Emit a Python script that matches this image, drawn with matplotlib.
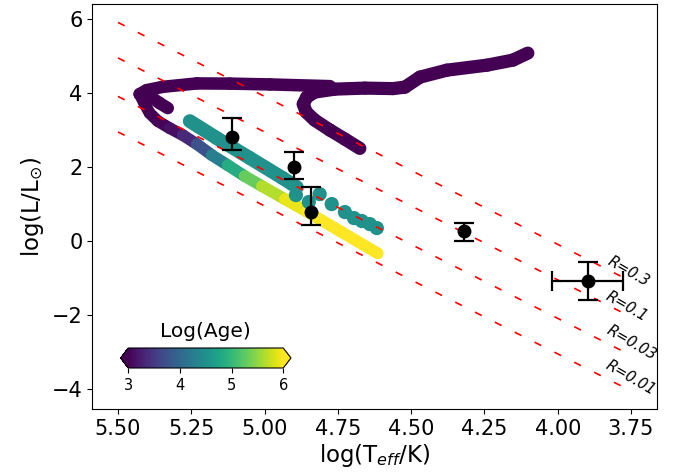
import numpy as np
import matplotlib
matplotlib.use('Agg')
import matplotlib.pyplot as plt
from matplotlib.collections import LineCollection
from matplotlib.colors import Normalize
from matplotlib.cm import ScalarMappable

plt.rcParams['lines.scale_dashes'] = False

# ---- constant-radius lines (log L at hot and cool ends) ----
R_values = [0.3, 0.1, 0.03, 0.01]
R_logT = [5.5, 3.75]
R_logL_hot = [5.91, 4.95, 3.91, 2.95]
R_logL_cool = [-1.09, -2.05, -3.09, -4.05]
R_label_logT = [3.760, 3.764, 3.747, 3.750]
R_label_logL = [-0.81, -1.78, -2.74, -3.70]

# ---- observed stars ----
obs_logT = [5.111, 4.899, 4.840, 4.319, 3.898]
obs_logL = [2.82, 2.01, 0.79, 0.27, -1.08]
obs_logL_lo = [0.36, 0.33, 0.36, 0.26, 0.50]
obs_logL_hi = [0.50, 0.40, 0.66, 0.23, 0.52]
obs_logT_err = [0.0, 0.0, 0.0, 0.0, 0.12]

# ---- evolutionary tracks (logT, logL, logAge) ----
trackA_logT = [4.675, 4.726, 4.777, 4.829, 4.858, 4.868, 4.856, 4.829, 4.760,
               4.658, 4.562, 4.521, 4.470, 4.378, 4.241, 4.153, 4.102]
trackA_logL = [2.505, 2.756, 2.999, 3.269, 3.486, 3.702, 3.891, 4.026, 4.107,
               4.134, 4.121, 4.161, 4.431, 4.620, 4.755, 4.891, 5.080]
trackA_age = [3.0] * len(trackA_logT)

trackB_logT = [4.777, 4.982, 5.119, 5.231, 5.347, 5.402, 5.426, 5.392, 5.358, 5.330]
trackB_logL = [4.188, 4.234, 4.256, 4.261, 4.169, 4.080, 3.972, 3.918, 3.729, 3.594]
trackB_age = [3.0] * len(trackB_logT)

trackC_logT = [5.426, 5.409, 5.392, 5.364, 5.324, 5.279, 5.231, 5.180, 5.126,
               5.068, 5.009, 4.931, 4.856, 4.743, 4.614]
trackC_logL = [3.972, 3.702, 3.459, 3.242, 3.053, 2.864, 2.621, 2.324, 2.053,
               1.756, 1.486, 1.135, 0.797, 0.270, -0.332]
trackC_age = [3.0, 3.0, 3.0, 3.0, 3.05, 3.2, 3.5, 4.0, 4.6,
              5.1, 5.5, 5.8, 6.0, 6.0, 6.0]

trackD_logT = [5.255, 5.163, 5.050, 4.938, 4.890]
trackD_logL = [3.242, 2.783, 2.243, 1.702, 1.459]
trackD_age = [4.5] * len(trackD_logT)

dotsD_logT = [4.893, 4.849, 4.812, 4.771, 4.726, 4.695, 4.668, 4.641, 4.617]
dotsD_logL = [1.243, 1.054, 1.270, 1.000, 0.784, 0.621, 0.540, 0.459, 0.351]
dotsD_age = [4.5] * len(dotsD_logT)

cmap = plt.get_cmap('viridis')
norm = Normalize(vmin=3, vmax=6)

fig = plt.figure(figsize=(6.88, 4.72), dpi=100)
ax = fig.add_axes([92.3 / 688, 1 - 409.3 / 472, (656.7 - 92.3) / 688, (409.3 - 4) / 472])


def draw_track(x, y, age, lw, z):
    x = np.asarray(x); y = np.asarray(y); age = np.asarray(age, dtype=float)
    pts = np.column_stack([x, y]).reshape(-1, 1, 2)
    segs = np.concatenate([pts[:-1], pts[1:]], axis=1)
    mid = 0.5 * (age[:-1] + age[1:])
    lc = LineCollection(segs, colors=cmap(norm(mid)), linewidths=lw,
                        capstyle='round', joinstyle='round', zorder=z)
    ax.add_collection(lc)


draw_track(trackC_logT, trackC_logL, trackC_age, 8.5, 1.0)
draw_track(trackB_logT, trackB_logL, trackB_age, 9, 1.2)
draw_track(trackA_logT, trackA_logL, trackA_age, 9.5, 1.2)
draw_track(trackD_logT, trackD_logL, trackD_age, 10, 1.5)
ax.scatter(dotsD_logT, dotsD_logL, c=dotsD_age, cmap=cmap, norm=norm, s=105,
           edgecolors='none', zorder=1.5)

for Rv, lh, lc_ in zip(R_values, R_logL_hot, R_logL_cool):
    ax.plot(R_logT, [lh, lc_], color='red', lw=1.2, dashes=(5.4, 10.6), zorder=3)
for Rv, tx, ty in zip(R_values, R_label_logT, R_label_logL):
    ax.text(tx, ty, f'R={Rv:g}', rotation=-30, ha='center', va='center',
            fontsize=10.5, style='italic', zorder=3, rotation_mode='anchor')

ax.errorbar(obs_logT, obs_logL, yerr=[obs_logL_lo, obs_logL_hi], fmt='o',
            color='black', ms=9, capsize=7, elinewidth=1.6, capthick=1.6, zorder=5)
sel = [i for i, e in enumerate(obs_logT_err) if e > 0]
ax.errorbar([obs_logT[i] for i in sel], [obs_logL[i] for i in sel],
            xerr=[obs_logT_err[i] for i in sel], fmt='none', ecolor='black',
            capsize=7, elinewidth=1.6, capthick=1.6, zorder=5)

ax.autoscale_view()
ax.invert_xaxis()
ax.set_xlabel(r'log(T$_{eff}$/K)', fontsize=16.5, labelpad=2)
ax.set_ylabel(r'log(L/L$_{\odot}$)', fontsize=16.5)
ax.tick_params(labelsize=15)

cax = fig.add_axes([120.5 / 688, 1 - 368 / 472, 170.5 / 688, 20 / 472])
sm = ScalarMappable(norm=norm, cmap=cmap)
cb = fig.colorbar(sm, cax=cax, orientation='horizontal', extend='both', ticks=[3, 4, 5, 6])
cb.ax.tick_params(labelsize=10.5)
cax.set_title('Log(Age)', fontsize=14.5, pad=8)

fig.savefig('out.png', dpi=100)
